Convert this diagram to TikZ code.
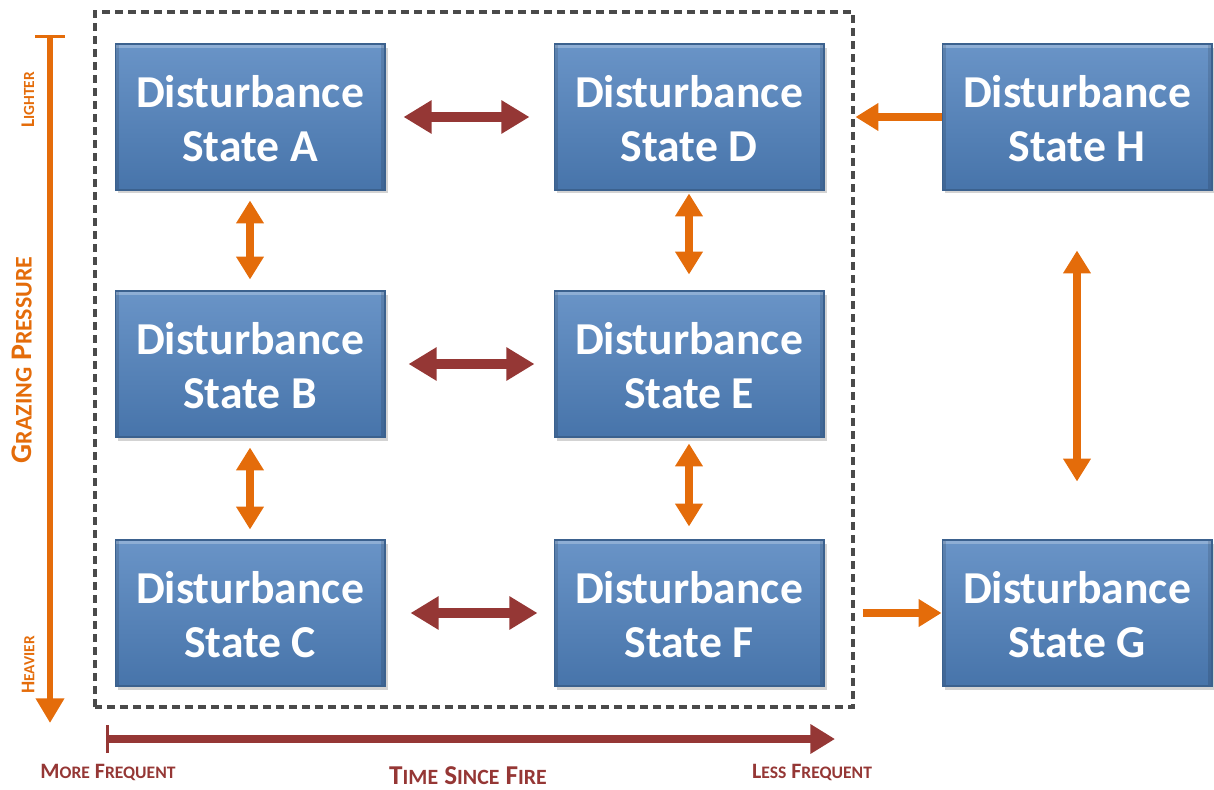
\documentclass[tikz,border=0pt]{standalone}
\usepackage{fontspec}
\setmainfont{Carlito}
\usetikzlibrary{arrows.meta}
\usetikzlibrary{shadows}
\definecolor{boxblue}{HTML}{4F81BD}
\definecolor{grazeorange}{HTML}{E46C0A}
\definecolor{firered}{HTML}{953735}
\definecolor{framegray}{HTML}{4A4A4A}
\newcommand{\scw}[2]{#1\scalebox{0.8}{#2}}

\begin{document}
\begin{tikzpicture}[x=0.02cm,y=0.02cm]
\par
\tikzstyle{state}=[minimum width=5.4cm,minimum height=2.92cm,inner sep=0pt,align=center,
  text=white,font=\bfseries\fontsize{26}{30.6}\selectfont,
  top color=boxblue!85!white,bottom color=boxblue!90!black,draw=boxblue!75!black,line width=0.6pt,
  drop shadow={opacity=0.35,shadow xshift=1.5pt,shadow yshift=-2pt},
  path picture={
    \draw[white,opacity=0.25,line width=2.5pt] ([yshift=-1.2pt]path picture bounding box.north west) -- ([yshift=-1.2pt]path picture bounding box.north east);
    \draw[black,opacity=0.12,line width=2.5pt] ([xshift=1.2pt]path picture bounding box.north west) -- ([xshift=1.2pt]path picture bounding box.south west)
      ([xshift=-1.2pt]path picture bounding box.north east) -- ([xshift=-1.2pt]path picture bounding box.south east);}]
\tikzstyle{firearrow}=[{Triangle[width=18pt,length=16pt]}-{Triangle[width=18pt,length=16pt]},line width=5.6pt,draw=firered]
\tikzstyle{grazearrow}=[{Triangle[width=15pt,length=13pt]}-{Triangle[width=15pt,length=13pt]},line width=4.5pt,draw=grazeorange]
\tikzstyle{grazeone}=[-{Triangle[width=15pt,length=13pt]},line width=4.5pt,draw=grazeorange]
\useasboundingbox (0,0) rectangle (1214,789);
\draw[framegray,line width=1.9pt,dash pattern=on 4.6pt off 2.8pt] (95,82) rectangle (853,777);
\par
\node[state] (A) at (250,672) {\rule{0pt}{20.5pt}Disturbance\\State A};
\node[state] (D) at (689,672) {\rule{0pt}{20.5pt}Disturbance\\State D};
\node[state] (H) at (1077,672) {\rule{0pt}{20.5pt}Disturbance\\State H};
\node[state] (B) at (250,425) {\rule{0pt}{20.5pt}Disturbance\\State B};
\node[state] (E) at (689,425) {\rule{0pt}{20.5pt}Disturbance\\State E};
\node[state] (C) at (250,176) {\rule{0pt}{20.5pt}Disturbance\\State C};
\node[state] (F) at (689,176) {\rule{0pt}{20.5pt}Disturbance\\State F};
\node[state] (G) at (1077,176) {\rule{0pt}{20.5pt}Disturbance\\State G};
\par
\draw[firearrow,shorten <=0.36cm,shorten >=0.48cm] (A) -- (D);
\draw[firearrow,shorten <=0.46cm,shorten >=0.38cm] (B) -- (E);
\draw[firearrow,shorten <=0.5cm,shorten >=0.32cm] (C) -- (F);
\draw[grazearrow,shorten <=0.2cm,shorten >=0.22cm] (A) -- (B);
\draw[grazearrow,shorten <=0.2cm,shorten >=0.2cm] (B) -- (C);
\draw[grazearrow,shorten <=0.06cm,shorten >=0.32cm] (D) -- (E);
\draw[grazearrow,shorten <=0.12cm,shorten >=0.26cm] (E) -- (F);
\draw[grazearrow,shorten <=1.2cm,shorten >=1.16cm] (H) -- (G);
\draw[grazeone,shorten >=0.62cm] (H) -- (D);
\draw[grazeone,shorten <=0.76cm] (F) -- (G);
\par
\coordinate (gtop) at (50,754);
\coordinate (gbot) at (50,66);
\draw[grazeorange,line width=3.4pt,{Bar[width=17pt,line width=1.8pt]}-{Triangle[width=15.5pt,length=14pt]}] (gtop) -- (gbot);
\node[grazeorange,rotate=90,font=\bfseries\fontsize{11}{11}\selectfont] (light) at (28,689) {\scw{L}{IGHTER}};
\node[grazeorange,rotate=90,font=\bfseries\fontsize{17}{17}\selectfont] (graze) at (22,429) {\scw{G}{RAZING} \scw{P}{RESSURE}};
\node[grazeorange,rotate=90,font=\bfseries\fontsize{11}{11}\selectfont] (heavy) at (28,124) {\scw{H}{EAVIER}};
\par
\coordinate (tleft) at (106,50);
\coordinate (tright) at (835,50);
\draw[firered,line width=4.5pt,{Bar[width=16pt,line width=1.5pt]}-{Triangle[width=16pt,length=14pt]}] (tleft) -- (tright);
\node[firered,font=\bfseries\fontsize{12.5}{12.5}\selectfont] (more) at (108,17) {\scw{M}{ORE} \scw{F}{REQUENT}};
\node[firered,font=\bfseries\fontsize{15.5}{15.5}\selectfont] (time) at (468,13) {\scw{T}{IME} \scw{S}{INCE} \scw{F}{IRE}};
\node[firered,font=\bfseries\fontsize{12.5}{12.5}\selectfont] (less) at (812,17) {\scw{L}{ESS} \scw{F}{REQUENT}};
\par
\end{tikzpicture}
\end{document}
